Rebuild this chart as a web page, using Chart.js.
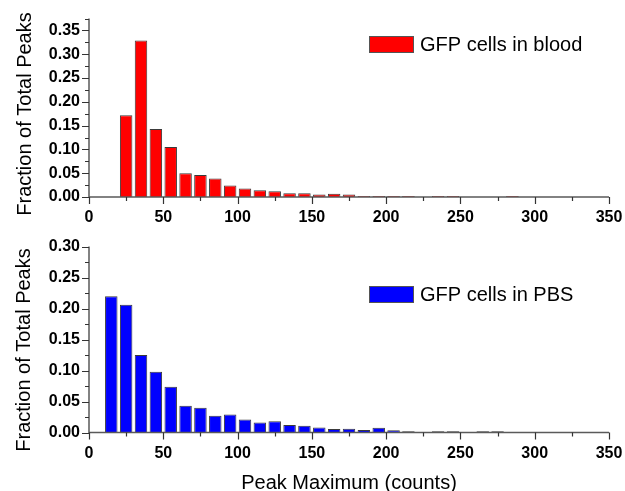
<!DOCTYPE html>
<html>
<head>
<meta charset="utf-8">
<script src="https://cdn.jsdelivr.net/npm/chart.js@4/dist/chart.umd.min.js"></script>
<style>
  html, body { margin: 0; padding: 0; background: #fff; overflow: hidden; }
  #wrap { position: relative; width: 625px; height: 491px; }
  .panel { position: absolute; left: 0; width: 625px; }
  #top { top: 0; height: 228px; }
  #bottom { top: 228px; height: 267px; }
</style>
</head>
<body>
<div id="wrap">
  <div class="panel" id="top"><canvas id="bloodChart" width="625" height="228"></canvas></div>
  <div class="panel" id="bottom"><canvas id="pbsChart" width="625" height="267"></canvas></div>
</div>
<script>
// Histogram bins (bin centres, 10-count wide bins)
const bloodBins = [25, 35, 45, 55, 65, 75, 85, 95, 105, 115, 125, 135, 145, 155, 165, 175,
                   185, 195, 205, 215, 225, 235, 245, 255, 265, 275, 285];
const bloodFraction = [0.172, 0.329, 0.143, 0.105, 0.050, 0.046, 0.039, 0.024, 0.018, 0.014,
                       0.012, 0.008, 0.008, 0.005, 0.007, 0.005, 0.002, 0.002, 0.002, 0.002,
                       0, 0.002, 0.002, 0, 0, 0, 0.002];

const pbsBins = [15, 25, 35, 45, 55, 65, 75, 85, 95, 105, 115, 125, 135, 145, 155, 165, 175,
                 185, 195, 205, 215, 225, 235, 245, 255, 265, 275, 285, 295, 305, 315, 325, 335, 345];
const pbsFraction = [0.220, 0.206, 0.125, 0.098, 0.074, 0.043, 0.040, 0.027, 0.029, 0.021,
                     0.016, 0.018, 0.012, 0.011, 0.008, 0.0055, 0.006, 0.004, 0.0075, 0.0035,
                     0.002, 0.001, 0.002, 0.002, 0.001, 0.002, 0.002, 0.001, 0, 0.001, 0, 0, 0, 0.001];

const xTickStep = 25;          // minor step; labels every 50
const yTickStep = 0.025;       // minor step; labels every 0.05
const xTitle = 'Peak Maximum (counts)';
const yTitle = 'Fraction of Total Peaks';

const FONT = '"Liberation Sans", Arial, Helvetica, sans-serif';

// Axis lines with outward major/minor tick marks
const axisFrame = {
  id: 'axisFrame',
  afterDatasetsDraw(chart) {
    const { ctx, chartArea: a, scales: { x, y } } = chart;
    ctx.save();
    ctx.strokeStyle = '#5a5a5a';
    ctx.lineWidth = 1.5;
    ctx.beginPath();
    ctx.moveTo(a.left, a.top);
    ctx.lineTo(a.left, a.bottom);
    ctx.lineTo(a.right, a.bottom);
    ctx.stroke();
    ctx.strokeStyle = '#333';
    ctx.lineWidth = 1.2;
    ctx.beginPath();
    x.ticks.forEach(t => {
      const px = Math.round(x.getPixelForValue(t.value)) + 0.5;
      const major = Math.round(t.value) % 50 === 0;
      ctx.moveTo(px, a.bottom);
      ctx.lineTo(px, a.bottom + (major ? 7 : 4));
    });
    y.ticks.forEach(t => {
      const py = Math.round(y.getPixelForValue(t.value)) + 0.5;
      const major = Math.round(t.value * 1000) % 50 === 0;
      ctx.moveTo(a.left, py);
      ctx.lineTo(a.left - (major ? 7 : 4), py);
    });
    ctx.stroke();
    ctx.restore();
  }
};

// Legend swatch + label inside the plot, and the rotated y-axis title
const panelText = {
  id: 'panelText',
  afterDraw(chart, args, opts) {
    const { ctx } = chart;
    const ds = chart.data.datasets[0];
    ctx.save();
    ctx.fillStyle = ds.backgroundColor;
    ctx.fillRect(opts.legendX, opts.legendY, 45, 17);
    ctx.strokeStyle = '#555';
    ctx.lineWidth = 1;
    ctx.strokeRect(opts.legendX + 0.5, opts.legendY + 0.5, 44, 16);
    ctx.fillStyle = '#000';
    ctx.font = '20px ' + FONT;
    ctx.textAlign = 'left';
    ctx.textBaseline = 'middle';
    ctx.fillText(ds.label, opts.legendX + 51, opts.legendY + 9);

    ctx.translate(opts.titleX, opts.titleY);
    ctx.rotate(-Math.PI / 2);
    ctx.textAlign = 'center';
    ctx.fillText(yTitle, 0, 0);
    ctx.restore();
  }
};

function makePanel(canvasId, bins, values, label, color, yMax, cfg) {
  return new Chart(document.getElementById(canvasId), {
    type: 'bar',
    data: {
      datasets: [{
        label: label,
        data: bins.map((b, i) => ({ x: b, y: values[i] })),
        backgroundColor: color,
        borderColor: '#3a3a3a',
        borderWidth: 1,
        borderSkipped: 'start',
        categoryPercentage: 1.0,
        barPercentage: 0.84
      }]
    },
    options: {
      responsive: false,
      animation: false,
      events: [],
      layout: { padding: { top: cfg.padTop, right: 16, bottom: 0, left: 0 } },
      plugins: {
        legend: { display: false },
        tooltip: { enabled: false },
        panelText: cfg.text
      },
      scales: {
        x: {
          type: 'linear',
          min: 0, max: 350,
          offset: false,
          grid: { display: false, drawTicks: false },
          border: { display: false },
          ticks: {
            stepSize: xTickStep,
            autoSkip: false,
            maxRotation: 0,
            padding: cfg.xPad,
            color: '#000',
            font: { family: FONT, size: 16, weight: 'bold' },
            callback: v => (Math.round(v) % 50 === 0 ? String(Math.round(v)) : '')
          },
          title: cfg.showXTitle ? {
            display: true, text: xTitle, color: '#000',
            font: { family: FONT, size: 20 }, padding: { top: 0, bottom: 0 }
          } : { display: false },
          afterFit: s => {
            s.height = cfg.xHeight;
            // end labels may overhang; the layout padding already leaves room
            s.paddingLeft = 0;
            s.paddingRight = 0;
          }
        },
        y: {
          min: 0, max: yMax,
          grid: { display: false, drawTicks: false },
          border: { display: false },
          ticks: {
            stepSize: yTickStep,
            autoSkip: false,
            padding: 9,
            color: '#000',
            font: { family: FONT, size: 16, weight: 'bold' },
            callback: v => (Math.round(v * 1000) % 50 === 0 ? v.toFixed(2) : '')
          },
          afterFit: s => { s.width = 89; }
        }
      }
    },
    plugins: [axisFrame, panelText]
  });
}

makePanel('bloodChart', bloodBins, bloodFraction, 'GFP cells in blood', '#ff0000', 0.375, {
  padTop: 10, xPad: 11, xHeight: 228 - 197, showXTitle: false,
  text: { legendX: 369, legendY: 36, titleX: 25, titleY: 114 }
});

makePanel('pbsChart', pbsBins, pbsFraction, 'GFP cells in PBS', '#0000ff', 0.30, {
  padTop: 18.5, xPad: 11, xHeight: 267 - 204.5, showXTitle: true,
  text: { legendX: 369, legendY: 58, titleX: 24, titleY: 122 }
});
</script>
</body>
</html>
